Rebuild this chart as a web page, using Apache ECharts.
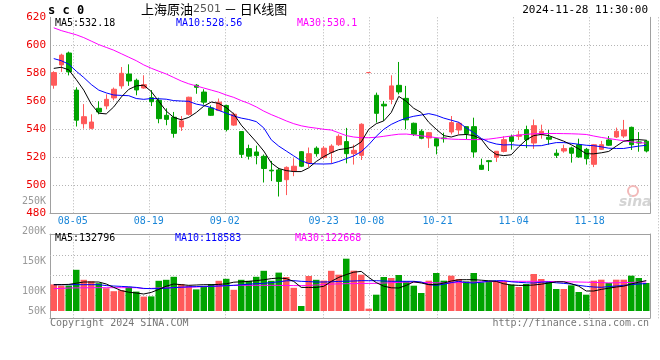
<!DOCTYPE html>
<html><head><meta charset="utf-8">
<script src="https://cdn.jsdelivr.net/npm/echarts@6/dist/echarts.min.js"></script>
<style>html,body{margin:0;padding:0;background:#fff}#c{width:660px;height:360px}</style>
</head><body><div id="c"></div>
<script>
// ---------------- data ----------------
const dates = ['07-31','08-01','08-02','08-05','08-06','08-07','08-08','08-09','08-12','08-13','08-14','08-15','08-16','08-19','08-20','08-21','08-22','08-23','08-26','08-27','08-28','08-29','08-30','09-02','09-03','09-04','09-05','09-06','09-09','09-10','09-11','09-12','09-13','09-18','09-19','09-20','09-23','09-24','09-25','09-26','09-27','09-30','10-08','10-09','10-10','10-11','10-14','10-15','10-16','10-17','10-18','10-21','10-22','10-23','10-24','10-25','10-28','10-29','10-30','10-31','11-01','11-04','11-05','11-06','11-07','11-08','11-11','11-12','11-13','11-14','11-15','11-18','11-19','11-20','11-21','11-22','11-25','11-26','11-27','11-28'];
const labelDates = ['08-05','08-19','09-02','09-23','10-08','10-21','11-04','11-18'];
const openP  = [571.5,586,594.5,568,544,540.7,555,556.7,562.4,571,579.5,575,569.5,562.6,560.7,550,548.6,541.7,550.7,571.5,566.6,555.3,553.4,557,543,538.4,526.2,523.8,520.7,510.8,511,504,510.3,524,515.7,526.5,519.8,523.5,529,531.2,522.6,521.4,580.5,564.3,557.9,561.4,571.4,562.1,544.3,538.6,533.8,533.3,533.8,538.1,539.5,541.9,541.9,514.3,517.6,520,524.2,534.8,535,539.8,530.2,536.2,534.3,522.9,524.5,526.7,529,525.7,515,525.7,532.4,534.5,535.2,541.4,531,531.5];
const closeP = [580.5,593,581,546.5,549,545.2,552.4,561.4,568.6,580,574.5,568.1,571.9,559.7,547.6,547.1,537.1,546,562.9,570,559.4,550,559.4,539.8,550.8,522.1,520.8,521.2,512,510.3,502.8,512.8,513.6,513.6,522.6,522.6,526.5,528,535,522.6,525,543.6,580.5,551.4,556.7,571,566.7,546.7,536.4,533.6,537.6,528.1,533.3,544.8,544.3,536.9,523.8,511.4,516.9,524.3,532.6,531.4,536,532.6,542.6,538.6,532.9,521.4,526.2,522.9,520.2,519,529,529,528.6,538.6,539.5,529,530.2,524.5];
const lowP   = [569,581,578.5,542,540.5,540,550.7,554.3,560.7,569,571,564.3,569,556.6,544.3,542.9,534,538.8,549.8,565.4,557.6,549.5,553,538.5,542.4,519.5,518.4,515,502,503,492,493,506.5,513,513,520.5,518.6,515.7,528.1,515.7,514.8,518.1,580.5,544.8,546,557.9,565,540,535.2,532.9,526.7,522.1,530.5,536.4,536.4,532.9,519.8,511,510.2,516.7,523.5,525.5,532.4,526.6,526,533.3,529,519.5,523.3,516.2,519.5,514.8,513,525.2,528.1,533.8,533.8,525.2,524,523.5];
const highP  = [581.5,594,595.5,570,558,550.7,560,565,569.8,584.5,586.4,576.2,578.6,568,562.6,555,552.4,549.5,563.3,572.3,568.6,557.1,562,557.6,552,538.6,529,528.3,522,517.4,512.5,513.5,519.3,524.5,527,527.8,528,529.3,536.4,541,529,544.3,580.5,566.2,560.2,578.6,588.1,571,544.8,540,538.1,534,537.6,549.5,545.2,541.9,548.3,519,518.1,524.3,535,536.2,539,542.6,547,543.3,539.5,525.7,529,527.6,533.3,526.7,529.5,531.7,535.2,541.2,546.7,541.9,538,532.5];
const ma5  = [583.5,584.3,582.5,575.5,568,558,551.5,551,556,563,568.5,571,571.5,567,560,553,548.5,546.8,548.5,552,556.5,559.5,558.5,555.5,551,543,537,531,524.5,516,512,510.5,509.8,509.8,512.5,517,520.5,523.3,525.5,526.2,527.5,531,540,544,546,552,563.5,560,555,552,545,540,535.5,534.5,536,536.3,535.5,533,526,522,521.2,521.8,527.5,532.5,535.5,536.3,535.5,533.5,531.5,529,526,522.5,522.5,523.2,524.2,528,531.5,532.4,532.6,532.18];
const ma10 = [590.5,589,586.5,581.5,577,572,568,566,564.5,564.2,564,562,561.4,562,561.8,561.5,560.5,560.2,560,558,557,555.5,553.5,551.5,549.5,548,547,545.5,541,532.5,528,524.5,521,517.5,515.6,515.3,515.2,515.4,517,519,521,524,529,535,540,543.5,546,548,549.3,550.2,551.2,550,548,546.5,545,541,537.5,533.5,531,529.5,528.8,529,528.6,528.3,528.2,528.3,529.5,530.5,530.5,530,529.3,528.6,528.3,527.5,526.5,526.3,526.3,527.2,528,528.56];
const ma30 = [612.5,610.5,609,607.5,605.5,603,600.5,598.5,596.5,594,591.5,589,586,583.6,581.5,579.5,577,574.5,572.5,571,569.5,568,566.5,564.5,562.8,560.5,558.5,556,553,550.5,548.3,546,544,542.5,541.5,540.8,540,539.5,537.5,535.5,534.5,534,534,534.3,535,535.8,536.5,536.6,536,535.3,534.8,534,533.5,533,532.8,532.7,532.6,532.7,533,533.7,534.5,535.2,535.8,536.4,536.8,537,537,537,536.9,536.8,536.6,536.3,535.2,534.2,533.4,532.6,531.8,531,530.5,530.1];
const volume = [116500,113500,113500,153000,128000,124500,119500,107000,99500,102000,110500,98500,86000,86500,125500,128000,135500,117500,113500,104000,112500,117500,125500,130500,103000,128000,125500,135500,150500,125500,146000,135000,108000,62500,137500,128000,126000,150500,140800,180800,150800,140800,55800,90800,135000,132500,140000,124200,113300,95000,125800,145000,125800,138300,130000,124200,145000,121700,124200,124200,124200,115800,110000,117500,142500,130000,122500,105000,105000,114200,97500,90800,125800,128300,120000,128300,128300,138300,132500,120000];
const volMa5  = [115800,116000,116500,119500,122500,122500,122500,117500,109000,101000,97000,95000,92500,96500,104000,112000,117500,115800,114200,115000,115800,115800,116500,118000,122000,123000,124000,126000,128000,131000,132500,131000,124000,109000,109000,109000,111700,124000,134000,141000,147000,149000,134000,121000,112000,108000,107500,114000,123000,120000,116000,116000,120000,125000,128000,128300,128300,127000,125500,124000,118000,115000,114000,114000,115000,117000,120000,123000,123000,118000,112000,100000,100000,104000,107000,110000,112000,117500,122000,126000];
const volMa10 = [115800,115800,115800,115800,115800,115800,115800,113500,112500,111500,110500,109000,106500,105800,106000,107000,108500,109500,110500,111000,111700,111700,112500,113500,114200,115500,117000,118300,119200,121000,123000,125500,125800,124200,123500,122500,122500,123000,124000,124500,125000,125800,125800,125800,125000,124200,124200,124200,124200,122500,116000,114200,117000,121000,124200,121000,120000,122000,124500,125800,125800,123000,121700,120500,120000,122000,122500,120500,119000,117500,114000,111700,110000,109200,111000,112500,114200,116000,117500,118600];
const volMa30 = [105800,106500,107500,107800,108000,108200,108300,108300,108300,108300,108300,108300,106000,106500,107500,108000,108500,109000,109500,110000,110800,111500,112300,113000,114000,114200,114200,114200,114200,114200,114000,113800,113500,113300,114000,115000,116000,117300,117800,118300,118500,118800,119000,119200,120000,120800,121500,122300,122000,121500,121000,120500,120000,120500,121000,121700,122300,122800,123300,123800,124000,124200,124200,124200,124200,124200,123800,123500,123000,122700,122500,122000,121500,121000,120300,120500,121000,121500,122200,122700];
const volGridValues = [88250, 138250, 188250];
const priceAxis = {min: 480, max: 620, step: 20};
const volLabelAxis = {min: 50000, max: 250000, step: 50000};
const headerTexts = {code: 's c 0', title: '上海原油', contract: '2501', kind: ' － 日K线图', time: '2024-11-28 11:30:00'};
const priceLegend = ['MA5:532.18', 'MA10:528.56', 'MA30:530.1'];
const volLegend = ['MA5:132796', 'MA10:118583', 'MA30:122668'];
const footer = ['Copyright 2024 SINA.COM', 'http://finance.sina.com.cn'];

// ---------------- chart ----------------
const UP = '#ff5a5a', DOWN = '#00a300';
const MONO = 'DejaVu Sans Mono';
const dotted = () => ({color: '#b4b4b4', type: [1, 2], width: 1});
const axisGray = '#a0a0a0';
const labelSet = new Set(labelDates);
const atLabel = (idx, val) => labelSet.has(val !== undefined ? val : dates[idx]);

const candles = dates.map((d, i) => [openP[i], closeP[i], lowP[i], highP[i]]);
const volBars = volume.map((v, i) => ({value: v, itemStyle: {color: closeP[i] >= openP[i] ? UP : DOWN}}));

const hiddenCat = (gridIndex) => ({type: 'category', gridIndex, data: dates, boundaryGap: true, show: false});
const hiddenVal = (gridIndex) => ({type: 'value', gridIndex, min: 0, max: 1, show: false});
const lineCat = (gridIndex, position) => ({type: 'category', gridIndex, position, data: dates, boundaryGap: true,
  axisLine: {show: true, onZero: false, lineStyle: {color: axisGray}}, axisTick: {show: false}, axisLabel: {show: false}, splitLine: {show: false}});
const lineVal = (gridIndex, position) => ({type: 'value', gridIndex, position, min: 0, max: 1,
  axisLine: {show: true, onZero: false, lineStyle: {color: axisGray}}, axisTick: {show: false}, axisLabel: {show: false}, splitLine: {show: false}});
const txt = (left, top, text, fill) => ({type: 'text', left, top, z: 30, style: {text, font: '10px ' + MONO, fill}});

const option = {
  animation: false,
  backgroundColor: '#fff',
  grid: [
    {left: 50, top: 17.3, width: 600, height: 196},          // 0 candles
    {left: 50, top: 17.3, width: 608, height: 302.7},        // 1 vertical grid lines (both panels)
    {left: 50, top: 234, width: 600, height: 77},            // 2 volume bars
    {left: 50, top: 234, width: 600, height: 84},            // 3 volume frame
    {left: 50, top: 17.3, width: 608, height: 196},          // 4 date labels
    {left: 50, top: 201, width: 600, height: 120}            // 5 volume labels
  ],
  xAxis: [
    {type: 'category', gridIndex: 0, data: dates, boundaryGap: true,
     axisLine: {show: true, onZero: false, lineStyle: {color: axisGray}}, axisTick: {show: false}, axisLabel: {show: false}, splitLine: {show: false}},
    {type: 'category', gridIndex: 1, data: dates, boundaryGap: true, z: 3,
     axisLine: {show: false, onZero: false}, axisTick: {show: false},
     axisLabel: {show: true, interval: atLabel, formatter: () => ''},
     splitLine: {show: true, interval: atLabel, lineStyle: dotted()}},
    hiddenCat(2),
    lineCat(3, 'bottom'),
    {type: 'category', gridIndex: 4, data: dates, boundaryGap: true, z: 20,
     axisLine: {show: false, onZero: false}, axisTick: {show: false},
     axisLabel: {show: true, interval: atLabel, margin: 3,
       formatter: v => '{a|' + v + '}',
       rich: {a: {padding: [0, 7.6, 0, 0], color: '#1a86d8', fontSize: 10, fontFamily: MONO}}},
     splitLine: {show: false}},
    hiddenCat(5),
    lineCat(3, 'top')
  ],
  yAxis: [
    {type: 'value', gridIndex: 0, min: priceAxis.min, max: priceAxis.max, interval: priceAxis.step,
     axisLine: {show: true, lineStyle: {color: axisGray}}, axisTick: {show: false},
     axisLabel: {color: '#ee0000', fontSize: 11, fontFamily: MONO, margin: 4},
     splitLine: {show: true, lineStyle: dotted(), showMinLine: false, showMaxLine: false}},
    {type: 'value', gridIndex: 0, position: 'right', min: priceAxis.min, max: priceAxis.max,
     axisLine: {show: true, lineStyle: {color: axisGray}}, axisTick: {show: false}, axisLabel: {show: false}, splitLine: {show: false}},
    hiddenVal(1),
    {type: 'value', gridIndex: 2, min: 50000, max: 242500, show: false},
    lineVal(3, 'left'),
    hiddenVal(4),
    {type: 'value', gridIndex: 5, min: volLabelAxis.min, max: volLabelAxis.max, interval: volLabelAxis.step, z: 20,
     axisLine: {show: false}, axisTick: {show: false}, splitLine: {show: false},
     axisLabel: {color: '#999', fontSize: 10, fontFamily: MONO, margin: 4,
       formatter: v => v === volLabelAxis.min ? '{s|' + (v / 1000) + 'K}' : (v / 1000) + 'K',
       rich: {s: {color: '#999', fontSize: 10, fontFamily: MONO, padding: [0, 0, 20, 0]}}}},
    lineVal(3, 'right')
  ],
  series: [
    {type: 'candlestick', xAxisIndex: 0, yAxisIndex: 0, data: candles, barWidth: 5, z: 4,
     itemStyle: {color: UP, color0: DOWN, borderColor: UP, borderColor0: DOWN, borderColorDoji: UP, borderWidth: 1}},
    {type: 'line', xAxisIndex: 0, yAxisIndex: 0, data: ma30, showSymbol: false, lineStyle: {color: '#ff00ff', width: 1}, z: 5},
    {type: 'line', xAxisIndex: 0, yAxisIndex: 0, data: ma10, showSymbol: false, lineStyle: {color: '#0000ff', width: 1}, z: 5},
    {type: 'line', xAxisIndex: 0, yAxisIndex: 0, data: ma5, showSymbol: false, lineStyle: {color: '#000000', width: 1}, z: 5},
    {type: 'bar', xAxisIndex: 2, yAxisIndex: 3, data: volBars, barWidth: 6.5, z: 4,
     markLine: {silent: true, z: 3, symbol: ['none', 'none'], label: {show: false}, lineStyle: dotted(), emphasis: {disabled: true},
       data: volGridValues.map(v => ({yAxis: v}))}},
    {type: 'line', xAxisIndex: 2, yAxisIndex: 3, data: volMa30, showSymbol: false, lineStyle: {color: '#ff00ff', width: 1}, z: 5},
    {type: 'line', xAxisIndex: 2, yAxisIndex: 3, data: volMa10, showSymbol: false, lineStyle: {color: '#0000ff', width: 1}, z: 5},
    {type: 'line', xAxisIndex: 2, yAxisIndex: 3, data: volMa5, showSymbol: false, lineStyle: {color: '#000000', width: 1}, z: 5}
  ],
  graphic: [
    {type: 'rect', z: 10, shape: {x: 50.6, y: 214.6, width: 599, height: 18.8}, style: {fill: '#fff'}},
    {type: 'text', left: 48, top: 5, z: 30, style: {text: headerTexts.code, font: 'bold 12px ' + MONO, fill: '#000'}},
    {type: 'text', left: 141, top: 3, z: 30, style: {
      text: '{t|' + headerTexts.title + '}{n|' + headerTexts.contract + '}{t|' + headerTexts.kind + '}',
      rich: {t: {fontFamily: 'Noto Sans CJK SC', fontSize: 13, fill: '#000'}, n: {fontFamily: 'DejaVu Sans', fontSize: 11, fill: '#555'}}}},
    {type: 'text', right: 12, top: 5, z: 30, style: {text: headerTexts.time, font: '11px ' + MONO, fill: '#000'}},
    txt(55, 18, priceLegend[0], '#000'),
    txt(176, 18, priceLegend[1], '#0000ff'),
    txt(297, 18, priceLegend[2], '#ff00ff'),
    txt(55, 233, volLegend[0], '#000'),
    txt(175, 233, volLegend[1], '#0000ff'),
    txt(295, 233, volLegend[2], '#ff00ff'),
    txt(50, 318, footer[0], '#777'),
    {type: 'text', right: 11, top: 318, z: 30, style: {text: footer[1], font: '10px ' + MONO, fill: '#777'}},
    {type: 'circle', z: 1, shape: {cx: 633, cy: 191, r: 5}, style: {fill: 'none', stroke: '#f2b8b8', lineWidth: 2}},
    {type: 'text', left: 619, top: 195, z: 1, style: {text: 'sina', font: 'italic bold 14px DejaVu Sans', fill: '#d4d4d4'}}
  ]
};
const chart = echarts.init(document.getElementById('c'));
chart.setOption(option);
</script>
</body></html>
